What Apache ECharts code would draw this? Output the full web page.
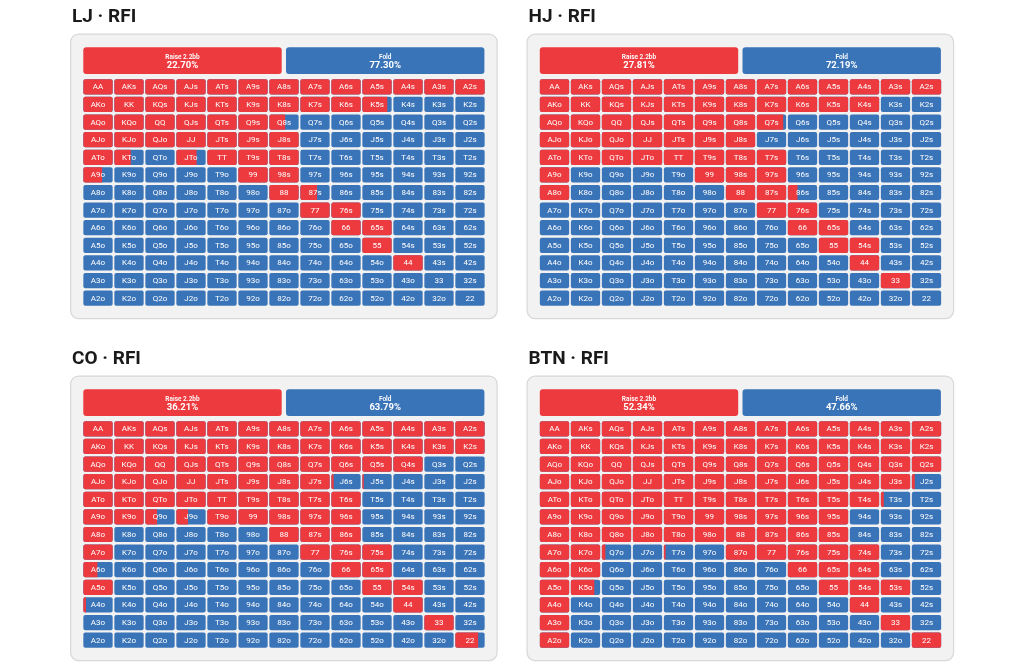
<!DOCTYPE html>
<html>
<head>
<meta charset="utf-8">
<script src="https://cdn.jsdelivr.net/npm/echarts@6/dist/echarts.min.js"></script>
<style>
  html, body { margin: 0; padding: 0; background: #fff; }
  #chart { width: 1024px; height: 667px; }
</style>
</head>
<body>
<div id="chart"></div>
<script>
// ranks on both axes
var ranks = ["A", "K", "Q", "J", "T", "9", "8", "7", "6", "5", "4", "3", "2"];

var positions = ["LJ", "HJ", "CO", "BTN"];
var raiseLabel = "Raise 2.2bb";
var foldLabel = "Fold";
var raisePct = ["22.70%", "27.81%", "36.21%", "52.34%"];
var foldPct = ["77.30%", "72.19%", "63.79%", "47.66%"];

// raise frequency per hand, rows = first rank, cols = second rank
var ljRaise = [
  [1, 1, 1, 1, 1, 1, 1, 1, 1, 1, 1, 1, 1],
  [1, 1, 1, 1, 1, 1, 1, 1, 1, 0.85, 0, 0, 0],
  [1, 1, 1, 1, 1, 1, 0.54, 0, 0, 0, 0, 0, 0],
  [1, 1, 1, 1, 1, 1, 1, 0, 0, 0, 0, 0, 0],
  [1, 0.56, 0, 0.69, 1, 1, 1, 0, 0, 0, 0, 0, 0],
  [0.64, 0, 0, 0, 0, 1, 1, 0, 0, 0, 0, 0, 0],
  [0, 0, 0, 0, 0, 0, 1, 0.57, 0, 0, 0, 0, 0],
  [0, 0, 0, 0, 0, 0, 0, 1, 1, 0, 0, 0, 0],
  [0, 0, 0, 0, 0, 0, 0, 0, 1, 1, 0, 0, 0],
  [0, 0, 0, 0, 0, 0, 0, 0, 0, 1, 0, 0, 0],
  [0, 0, 0, 0, 0, 0, 0, 0, 0, 0, 1, 0, 0],
  [0, 0, 0, 0, 0, 0, 0, 0, 0, 0, 0, 0, 0],
  [0, 0, 0, 0, 0, 0, 0, 0, 0, 0, 0, 0, 0]
];
var hjRaise = [
  [1, 1, 1, 1, 1, 1, 1, 1, 1, 1, 1, 1, 1],
  [1, 1, 1, 1, 1, 1, 1, 1, 1, 1, 1, 0, 0],
  [1, 1, 1, 1, 1, 1, 1, 0.9, 0, 0, 0, 0, 0],
  [1, 1, 1, 1, 1, 1, 1, 0, 0, 0, 0, 0, 0],
  [1, 1, 1, 1, 1, 1, 1, 1, 0, 0, 0, 0, 0],
  [1, 0, 0, 0, 0, 1, 1, 1, 0, 0, 0, 0, 0],
  [1, 0, 0, 0, 0, 0, 1, 1, 0.33, 0, 0, 0, 0],
  [0, 0, 0, 0, 0, 0, 0, 1, 1, 0, 0, 0, 0],
  [0, 0, 0, 0, 0, 0, 0, 0, 1, 1, 0, 0, 0],
  [0, 0, 0, 0, 0, 0, 0, 0, 0, 1, 1, 0, 0],
  [0, 0, 0, 0, 0, 0, 0, 0, 0, 0, 1, 0, 0],
  [0, 0, 0, 0, 0, 0, 0, 0, 0, 0, 0, 1, 0],
  [0, 0, 0, 0, 0, 0, 0, 0, 0, 0, 0, 0, 0]
];
var coRaise = [
  [1, 1, 1, 1, 1, 1, 1, 1, 1, 1, 1, 1, 1],
  [1, 1, 1, 1, 1, 1, 1, 1, 1, 1, 1, 1, 1],
  [1, 1, 1, 1, 1, 1, 1, 1, 1, 1, 1, 0, 0],
  [1, 1, 1, 1, 1, 1, 1, 1, 0.08, 0.05, 0, 0, 0],
  [1, 1, 1, 1, 1, 1, 1, 1, 1, 0, 0, 0, 0],
  [1, 1, 0.4, 0.4, 1, 1, 1, 1, 1, 0, 0, 0, 0],
  [1, 0, 0, 0, 0, 0, 1, 1, 1, 0, 0, 0, 0],
  [1, 0, 0, 0, 0, 0, 0, 1, 1, 1, 0, 0, 0],
  [0.48, 0, 0, 0, 0, 0, 0, 0, 1, 1, 0, 0, 0],
  [1, 0, 0, 0, 0, 0, 0, 0, 0, 1, 1, 0, 0],
  [0.09, 0, 0, 0, 0, 0, 0, 0, 0, 0, 1, 0, 0],
  [0, 0, 0, 0, 0, 0, 0, 0, 0, 0, 0, 1, 0],
  [0, 0, 0, 0, 0, 0, 0, 0, 0, 0, 0, 0, 0.78]
];
var btnRaise = [
  [1, 1, 1, 1, 1, 1, 1, 1, 1, 1, 1, 1, 1],
  [1, 1, 1, 1, 1, 1, 1, 1, 1, 1, 1, 1, 1],
  [1, 1, 1, 1, 1, 1, 1, 1, 1, 1, 1, 1, 1],
  [1, 1, 1, 1, 1, 1, 1, 1, 1, 1, 1, 1, 0.1],
  [1, 1, 1, 1, 1, 1, 1, 1, 1, 1, 1, 0.1, 0],
  [1, 1, 1, 1, 1, 1, 1, 1, 1, 1, 0, 0, 0],
  [1, 1, 1, 1, 1, 1, 1, 1, 1, 1, 0, 0, 0],
  [1, 1, 0.12, 0, 0.06, 0, 1, 1, 1, 1, 1, 0, 0],
  [1, 1, 0, 0, 0, 0, 0, 0, 1, 1, 1, 0, 0],
  [1, 0.8, 0, 0, 0, 0, 0, 0, 0, 1, 1, 1, 0],
  [1, 0, 0, 0, 0, 0, 0, 0, 0, 0, 1, 0, 0],
  [1, 0, 0, 0, 0, 0, 0, 0, 0, 0, 0, 1, 0],
  [1, 0, 0, 0, 0, 0, 0, 0, 0, 0, 0, 0, 1]
];
var ranges = [ljRaise, hjRaise, coRaise, btnRaise];

var RED = "#ed3a3f";
var BLUE = "#3a74b8";
var PANEL_BG = "#f2f2f2";
var FONT = "Roboto, 'Noto Sans', sans-serif";

function handName(i, j) {
  if (i == j) return ranks[i] + ranks[j];
  if (j > i) return ranks[i] + ranks[j] + "s";
  return ranks[j] + ranks[i] + "o";
}

// panel origins (top-left of each grey box)
var origins = [[70, 33.5], [526.5, 33.5], [70, 375.5], [526.5, 375.5]];

function renderCell(params, api) {
  var c = api.coord([api.value(0), api.value(1)]);
  var s = api.size([1, 1]);
  var w = s[0] - 1.7;
  var h = s[1] - 2.4;
  var x = c[0] - w / 2;
  var y = c[1] - h / 2;
  var f = api.value(2);
  var children = [
    { type: "rect", shape: { x: x, y: y, width: w, height: h, r: 2 }, style: { fill: BLUE } }
  ];
  if (f > 0) {
    children.push({
      type: "rect",
      shape: { x: x, y: y, width: w * f, height: h, r: f >= 1 ? 2 : [2, 0, 0, 2] },
      style: { fill: RED }
    });
  }
  children.push({
    type: "text",
    style: {
      text: api.value(3),
      x: c[0],
      y: c[1] + 0.5,
      align: "center",
      verticalAlign: "middle",
      textAlign: "center",
      textVerticalAlign: "middle",
      fill: "#ffffff",
      fontSize: 8,
      fontFamily: FONT
    }
  });
  return { type: "group", children: children };
}

var grids = [], xAxes = [], yAxes = [], series = [], titles = [], graphics = [];

positions.forEach(function (pos, k) {
  var ox = origins[k][0], oy = origins[k][1];

  titles.push({
    text: pos + " · RFI",
    left: ox - 3,
    top: oy - 31,
    textStyle: { fontSize: 19, fontWeight: "bold", color: "#1a1a1a", fontFamily: FONT }
  });

  // grey panel
  graphics.push({
    type: "rect",
    left: ox, top: oy, z: 0,
    shape: { width: 426.5, height: 284.5, r: 8 },
    style: { fill: PANEL_BG, stroke: "#d8d8d8", lineWidth: 1.2 }
  });
  // header bars
  var bars = [[raiseLabel, raisePct[k], RED, 13.3], [foldLabel, foldPct[k], BLUE, 216]];
  bars.forEach(function (b) {
    graphics.push({
      type: "group",
      left: ox + b[3], top: oy + 13.8, z: 1,
      children: [
        { type: "rect", shape: { x: 0, y: 0, width: 198.4, height: 26.7, r: 3 }, style: { fill: b[2] } },
        { type: "text", style: { text: b[0], x: 99.2, y: 10, align: "center", verticalAlign: "middle", fill: "#fff", fontSize: 6.5, fontWeight: 600, fontFamily: FONT } },
        { type: "text", style: { text: b[1], x: 99.2, y: 18, align: "center", verticalAlign: "middle", fill: "#fff", fontSize: 9.5, fontWeight: "bold", fontFamily: FONT } }
      ]
    });
  });

  grids.push({ left: ox + 12.5, top: oy + 44.5, width: 403, height: 229 });
  xAxes.push({ type: "category", data: ranks, gridIndex: k, show: false });
  yAxes.push({ type: "category", data: ranks, gridIndex: k, inverse: true, show: false });

  var data = [];
  for (var i = 0; i < 13; i++) {
    for (var j = 0; j < 13; j++) {
      data.push([j, i, ranges[k][i][j], handName(i, j)]);
    }
  }
  series.push({
    type: "custom",
    xAxisIndex: k,
    yAxisIndex: k,
    renderItem: renderCell,
    data: data,
    silent: true,
    z: 2
  });
});

var myChart = echarts.init(document.getElementById("chart"), null, { renderer: "canvas" });
myChart.setOption({
  backgroundColor: "#ffffff",
  animation: false,
  title: titles,
  grid: grids,
  xAxis: xAxes,
  yAxis: yAxes,
  graphic: graphics,
  series: series
});
</script>
</body>
</html>
